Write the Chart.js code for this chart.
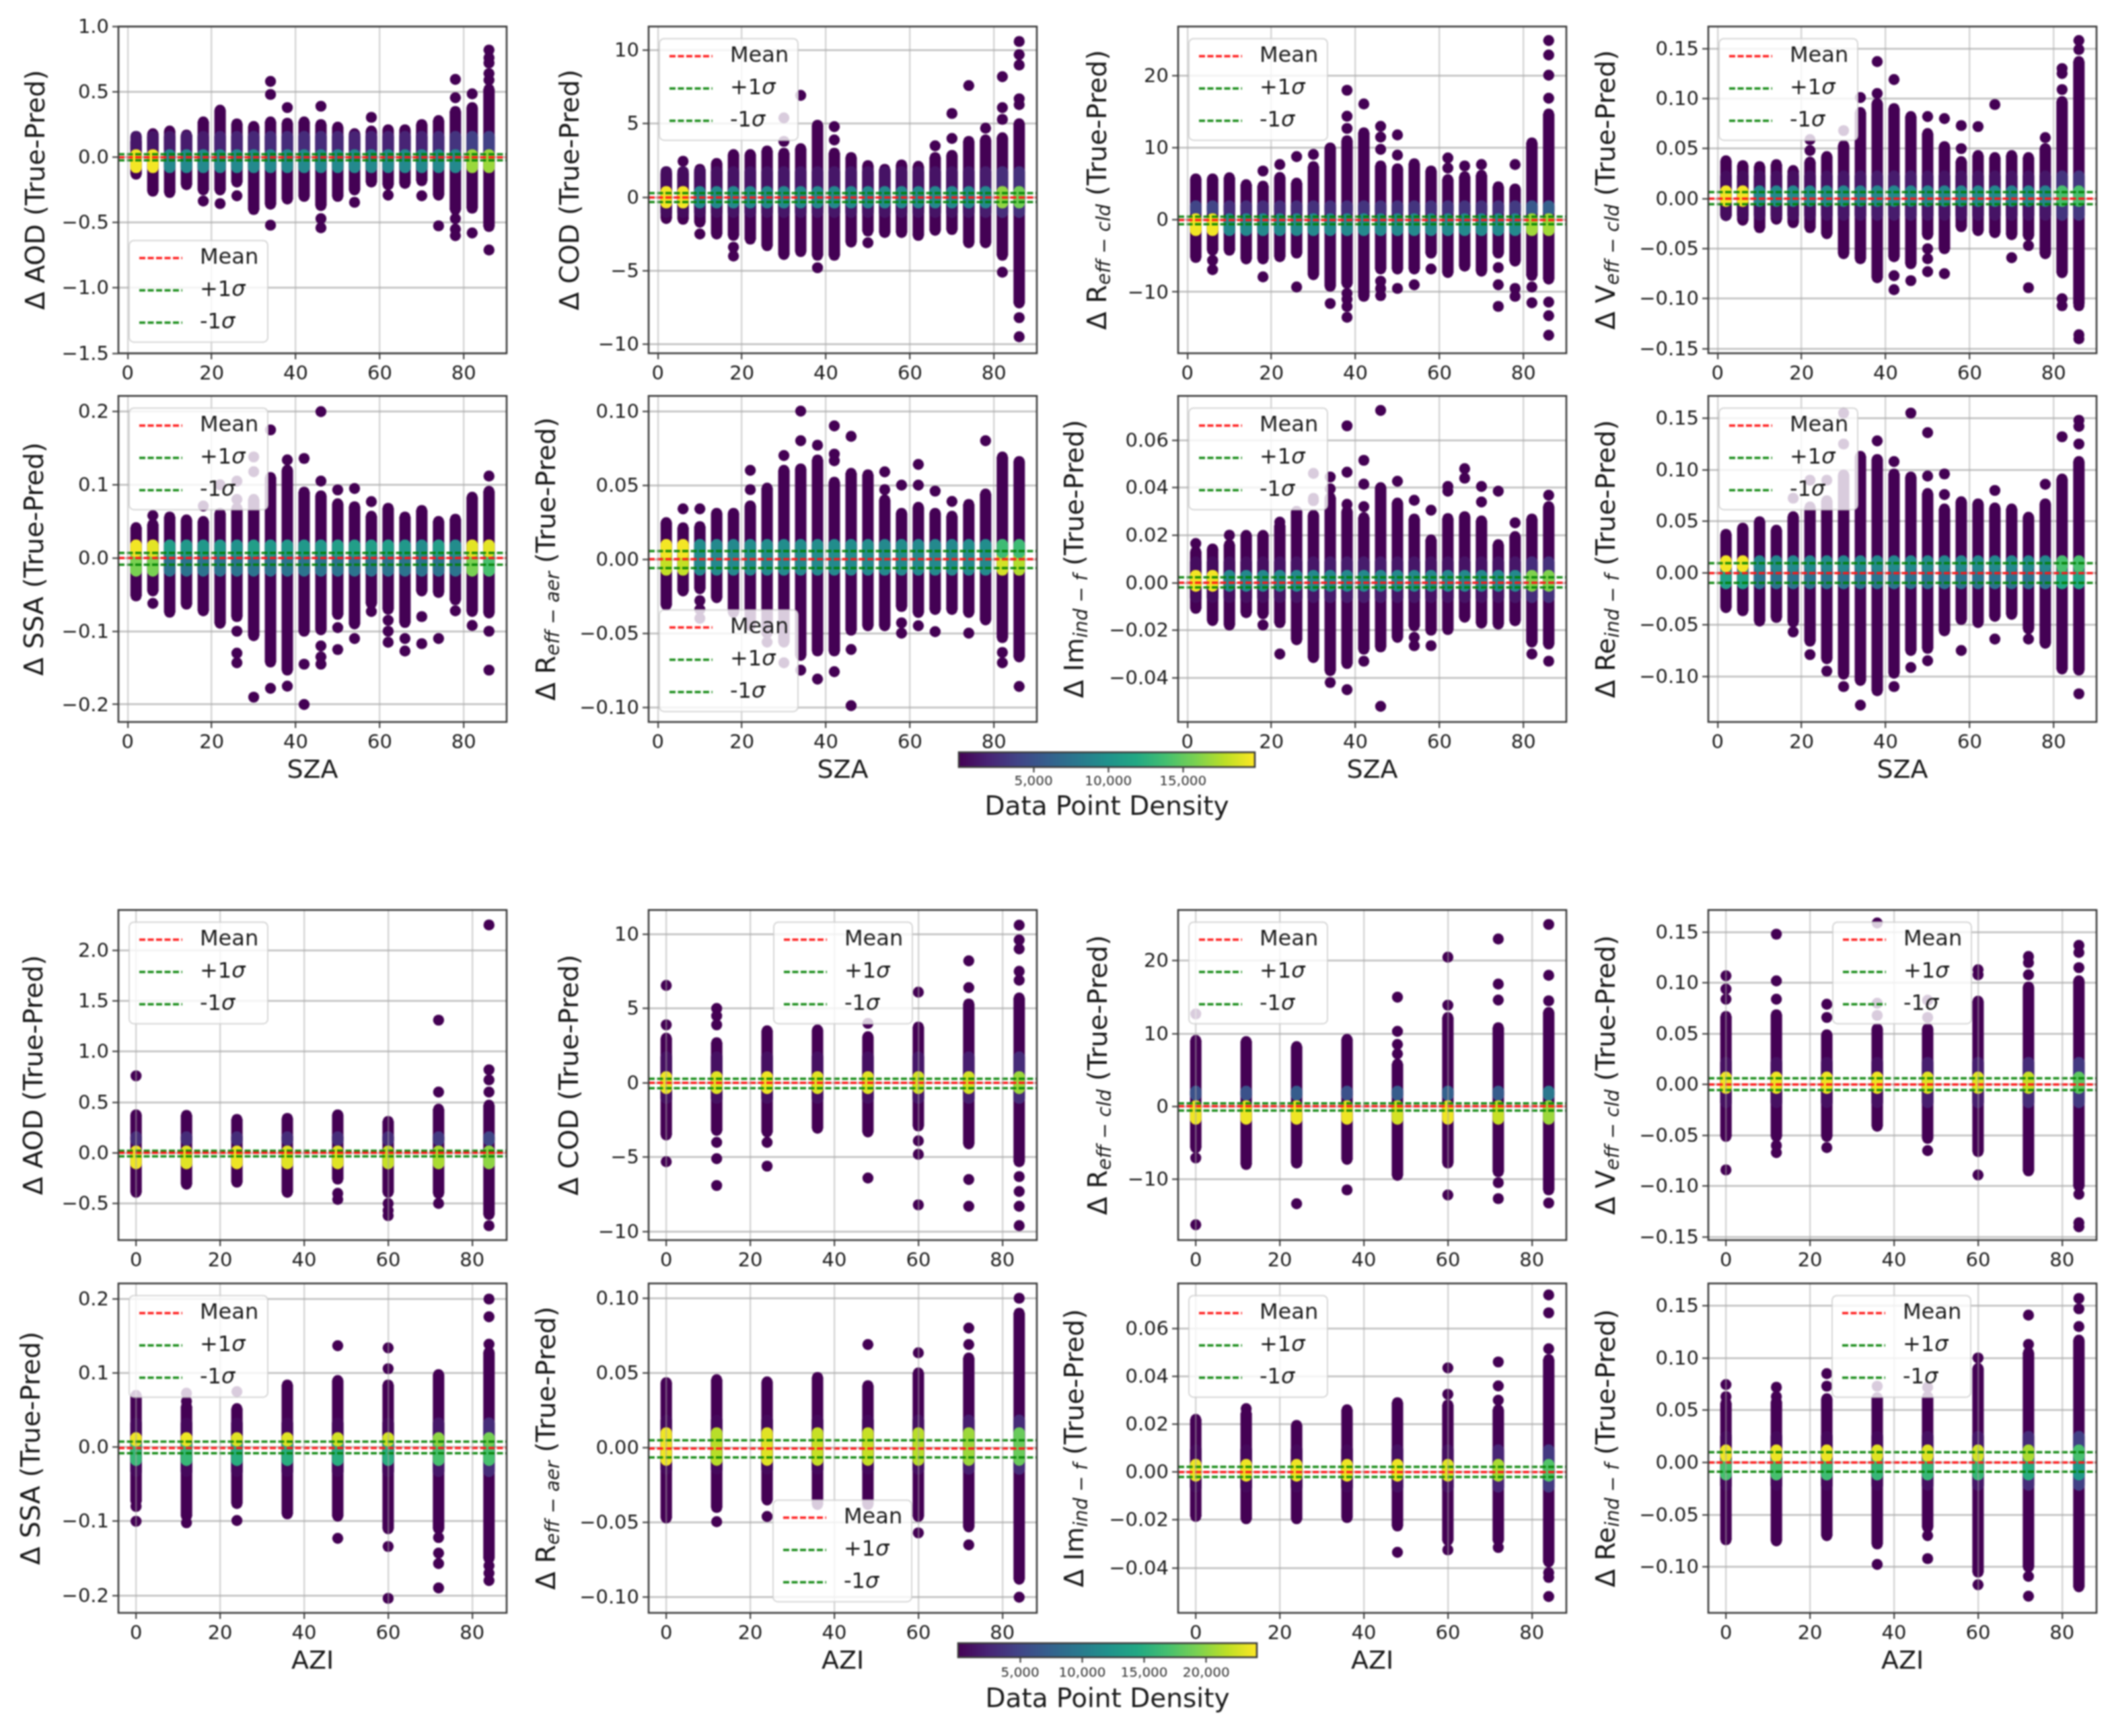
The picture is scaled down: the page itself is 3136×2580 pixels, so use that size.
<!DOCTYPE html>
<html><head><meta charset="utf-8">
<script src="https://cdn.jsdelivr.net/npm/chart.js@4"></script>
<style>
html,body{margin:0;padding:0;background:#fff}
#page{position:relative;width:3136px;height:2580px;overflow:hidden;background:#fff}
canvas{position:absolute;filter:blur(0.8px)}
</style></head><body><div id="page"></div>
<script>
// ---------- categories ----------
const szaAngles=[2,6,10,14,18,22,26,30,34,38,42,46,50,54,58,62,66,70,74,78,82,86];
const aziAngles=[0,12,24,36,48,60,72,84];
const szaLimits=[-2.2,90.2];
const aziLimits=[-4.2,88.2];
const xTickStep=20;
const legendLabels=['Mean','+1σ','-1σ'];
const densityTitle='Data Point Density';
const szaDensityRange=[0,19800];
const aziDensityRange=[0,24080];
const szaDensityTicks=[5000,10000,15000];
const aziDensityTicks=[5000,10000,15000,20000];

// ---------- SZA panels: column top, column bottom, isolated points, density bands (lo,hi,density in thousands), mean/+1s/-1s ----------
const aodSzaHi=[.12,.18,.2,.17,.27,.36,.255,.235,.27,.26,.27,.25,.23,.18,.2,.21,.21,.25,.28,.35,.38,.52];
const aodSzaLo=[-.13,-.26,-.27,-.21,-.25,-.25,-.19,-.40,-.36,-.32,-.30,-.37,-.30,-.25,-.19,-.21,-.20,-.18,-.29,-.40,-.39,-.53];
const aodSzaOut=[[18,-.335],[22,-.355],[26,-.295],[34,.58],[34,.48],[34,-.52],[38,.38],[46,.39],[46,-.47],[46,-.54],[54,-.345],[58,.305],[62,-.29],[70,-.295],[74,-.525],[78,.595],[78,.455],[78,-.47],[78,-.55],[78,-.6],[82,.485],[82,-.58],[86,.82],[86,.76],[86,.72],[86,.64],[86,.59],[86,-.71]];
const aodSzaBands=[[.02,.2,[1.2,1.2,1.5,1.5,1.5,2,2,2.2,2.5,2.5,2.5,2.5,2.2,2,2,2,2,2,2.5,3,3.8,3.8]],[-.12,.06,[19.5,19.5,9.3,9.3,9.3,9.3,9.3,9.3,9.3,9.3,9.3,9.3,9.3,9.3,9.3,9.3,9.3,9.3,9.3,9.3,16.8,16.8]]];
const aodSzaLines=[0,.022,-.024];

const codSzaHi=[1.62,1.6,1.9,2.3,2.9,2.9,3.15,3.0,3.3,4.9,3.0,2.7,2.15,1.9,2.2,2.1,2.7,2.85,3.8,3.9,4.05,5.0];
const codSzaLo=[-1.45,-1.5,-1.7,-2.5,-2.6,-2.85,-3.3,-3.9,-3.7,-3.95,-3.95,-3.05,-2.3,-2.4,-2.4,-2.6,-2.25,-2.2,-3.1,-3.1,-3.95,-7.2];
const codSzaOut=[[6,2.45],[10,-2.5],[18,-3.4],[18,-4.0],[30,5.4],[30,3.8],[34,6.93],[38,-4.8],[42,4.8],[42,3.9],[50,-3.1],[66,3.5],[70,4.0],[70,5.7],[74,7.6],[78,4.7],[82,8.2],[82,6.1],[82,5.3],[82,-5.1],[86,10.6],[86,9.7],[86,9.0],[86,6.7],[86,6.3],[86,-8.2],[86,-9.5]];
const codSzaBands=[[-1.4,2.1,[.6,.6,.8,.8,1,1,1,1.2,1.2,1.2,1.2,1.2,1,1,1,1,1,1,1.2,1.5,2.6,2.8]],[-.75,.75,[19.5,19.5,9.3,9.3,9.3,9.3,9.3,9.3,9.3,9.3,9.3,9.3,9.3,9.3,9.3,9.3,9.3,9.3,9.3,9.3,16.5,15.5]]];
const codSzaLines=[-.02,.28,-.33];

const rcldSzaHi=[5.7,5.7,5.85,4.9,4.7,5.9,5.1,7.4,10,11,12.1,7.5,7.1,7.8,6.8,5.6,6,6.2,4.6,4.3,10.7,14.7];
const rcldSzaLo=[-5.2,-4.2,-4.2,-5.4,-5.4,-5.1,-4.6,-7.6,-9.2,-8.8,-10.6,-6.8,-6.8,-6.8,-4.6,-7.3,-6.4,-7.1,-4.6,-5.7,-7.7,-8.2];
const rcldSzaOut=[[6,-5.6],[6,-6.9],[18,6.8],[18,-7.9],[22,7.7],[26,8.8],[26,-9.3],[30,9.1],[34,-11.6],[38,12.7],[38,14.4],[38,18],[38,-10.2],[38,-11],[38,-12],[38,-13.5],[42,16.1],[46,13],[46,11.5],[46,9.8],[46,-8.5],[46,-9.5],[46,-10.5],[50,9],[50,11.8],[50,-9.5],[54,-9],[58,-6.8],[62,7.2],[62,8.6],[66,7.5],[70,7.7],[74,-6.6],[74,-9],[74,-12],[78,7.7],[78,-9.5],[78,-10.6],[82,-9.3],[82,-11.5],[86,24.9],[86,22.9],[86,20.1],[86,16.9],[86,-11.4],[86,-13.3],[86,-16]];
const rcldSzaBands=[[.5,2.7,[4,4,2.6,2.6,2.6,2.6,2.6,2.8,2.8,2.8,3,3,3,3,3,3,3,2.8,3,3.4,5.5,6]],[-2.2,.9,[19.5,19.5,9.3,9.3,9.3,9.3,9.3,9.3,9.3,9.3,9.3,9.3,9.3,9.3,9.3,9.3,9.3,9.3,9.3,9.3,17,17]]];
const rcldSzaLines=[0,.45,-.6];

const vcldSzaHi=[.0378,.033,.032,.034,.028,.0365,.042,.053,.086,.095,.09,.082,.065,.052,.037,.043,.041,.043,.041,.05,.097,.137];
const vcldSzaLo=[-.017,-.0215,-.029,-.0205,-.024,-.029,-.035,-.055,-.06,-.079,-.058,-.065,-.036,-.05,-.028,-.032,-.034,-.036,-.037,-.055,-.074,-.105];
const vcldSzaOut=[[22,.048],[22,.059],[30,.068],[34,.101],[38,.137],[38,.105],[42,.119],[42,-.077],[42,-.091],[46,-.082],[50,.082],[50,-.05],[50,-.06],[50,-.073],[54,.08],[54,-.075],[58,.073],[58,.05],[62,.072],[66,.094],[70,-.059],[74,-.047],[74,-.089],[78,.061],[82,.13],[82,.125],[82,.109],[82,-.1],[82,-.107],[86,.158],[86,.149],[86,-.107],[86,-.136],[86,-.14]];
const vcldSzaBands=[[-.022,.028,[.6,.6,.8,.8,.8,.8,1,1.2,1.2,1.5,1.5,1.5,1.2,1,1,1,1,1,1,1.2,3,3.2]],[-.008,.013,[19.5,19.5,9.3,9.3,9.3,9.3,9.3,9.3,8.8,9,9.3,9.3,9,9,9.3,9.3,9.3,8.8,9.3,8.8,14,14]]];
const vcldSzaLines=[0,.0065,-.0055];

const ssaSzaHi=[.0415,.046,.056,.052,.05,.061,.068,.08,.11,.12,.09,.085,.074,.07,.057,.068,.056,.065,.05,.053,.083,.091];
const ssaSzaLo=[-.0517,-.045,-.074,-.063,-.072,-.089,-.08,-.106,-.142,-.153,-.1,-.098,-.077,-.09,-.062,-.07,-.088,-.045,-.047,-.057,-.073,-.075];
const ssaSzaOut=[[6,.058],[6,-.062],[18,.071],[22,.1],[26,.105],[26,.08],[26,-.1],[26,-.13],[26,-.143],[30,.138],[30,.118],[30,-.19],[34,.175],[34,-.178],[38,.134],[38,-.175],[42,.136],[42,-.145],[42,-.2],[46,.2],[46,.105],[46,-.12],[46,-.135],[46,-.145],[50,.093],[50,-.095],[50,-.125],[54,.095],[54,-.11],[58,.077],[58,-.073],[62,-.085],[62,-.1],[62,-.115],[66,-.11],[66,-.127],[70,-.08],[70,-.117],[74,-.11],[78,-.072],[82,-.092],[86,.112],[86,-.1],[86,-.153]];
const ssaSzaBands=[[-.025,.012,[15.8,15.8,7.5,7.5,7.5,7.5,7.5,7.5,7.5,7.5,7.5,7.5,7.5,7.5,7.5,7.5,7.5,7.5,7.5,7.5,15.8,14]],[0,.025,[19.5,19,11,10.5,10.5,10.5,10,11,10.5,10.5,10.5,10.5,11,11,11,11,10.5,9.5,11,9.5,19,19]]];
const ssaSzaLines=[0,.007,-.009];

const raerSzaHi=[.0247,.0212,.022,.031,.031,.036,.048,.06,.061,.067,.052,.058,.057,.04,.031,.035,.031,.029,.037,.044,.069,.066];
const raerSzaLo=[-.031,-.0215,-.02,-.026,-.036,-.045,-.05,-.056,-.065,-.062,-.062,-.048,-.045,-.045,-.032,-.036,-.034,-.034,-.036,-.041,-.053,-.066];
const raerSzaOut=[[6,.034],[10,.034],[10,-.028],[10,-.034],[10,-.04],[22,.047],[22,.06],[26,-.056],[30,.07],[30,-.07],[34,.08],[34,.1],[34,-.075],[38,.077],[38,-.081],[42,.0665],[42,.071],[42,.09],[42,-.076],[46,.083],[46,-.061],[46,-.099],[54,.047],[54,.059],[58,.05],[58,-.043],[58,-.05],[62,.05],[62,.064],[62,-.045],[66,.046],[66,-.049],[70,.039],[74,-.05],[78,.08],[82,-.063],[82,-.07],[86,-.086]];
const raerSzaBands=[[-.011,.006,[18,18,9.3,9.3,9.3,9.3,9.3,9.3,9.3,9.3,9.3,9.3,9.3,9.3,9.3,9.3,9.3,9.3,9.3,9.3,18.5,17.5]],[0,.0135,[19.5,19.5,9.6,9.3,9.3,9.6,9.6,9.6,9.6,9.6,9.6,9.6,9.6,9.3,9.6,9.3,9.3,9.3,9.6,9.6,13.5,13.5]]];
const raerSzaLines=[0,.0055,-.006];

const imSzaHi=[.013,.0142,.016,.0199,.0199,.024,.03,.0284,.0358,.03,.0274,.04,.0335,.0268,.018,.027,.0278,.026,.016,.0194,.0268,.032];
const imSzaLo=[-.0108,-.0159,-.0178,-.0126,-.0131,-.0168,-.024,-.0315,-.037,-.034,-.028,-.027,-.023,-.0182,-.02,-.0197,-.0145,-.017,-.0174,-.016,-.025,-.0258];
const imSzaOut=[[2,.0165],[10,.02],[18,-.0178],[22,.0255],[22,-.03],[30,.0355],[30,.046],[30,.0345],[34,.0445],[34,.0395],[34,-.042],[38,.033],[38,.0465],[38,.066],[38,-.045],[42,.032],[42,.0415],[42,.0515],[42,-.033],[46,.0725],[46,-.052],[50,.0427],[54,.0347],[54,-.023],[54,-.0265],[58,.0305],[58,-.0265],[62,.0385],[62,.0405],[66,.048],[66,.044],[70,.034],[70,.0405],[74,.0385],[78,.0252],[82,-.03],[86,.0368],[86,-.033]];
const imSzaBands=[[-.0085,.011,[.6,.6,.8,.8,.8,1,1,1.2,1.5,1.5,1.5,1.5,1.2,1.2,1,1,1,1,1,1.2,2.6,2.8]],[-.0037,.0053,[19.5,19.5,9.3,9.3,9.3,9.3,9.3,9.3,9.3,9.3,9.3,9.3,9.3,9.3,9.3,9.3,9.3,9.3,9.3,9.3,16,16]]];
const imSzaLines=[0,.0023,-.002];

const reSzaHi=[.0375,.0435,.0497,.0415,.0545,.064,.07,.095,.113,.11,.096,.093,.077,.062,.069,.067,.063,.062,.054,.067,.091,.108];
const reSzaLo=[-.0335,-.0365,-.0465,-.043,-.0475,-.066,-.083,-.098,-.104,-.114,-.097,-.075,-.073,-.056,-.045,-.048,-.042,-.04,-.054,-.068,-.093,-.094];
const reSzaOut=[[18,.0725],[18,-.057],[22,.09],[22,-.079],[26,.09],[26,-.095],[30,.125],[30,.155],[30,-.11],[34,-.128],[38,.128],[42,.108],[42,-.11],[46,.155],[46,-.0915],[50,.094],[50,.136],[50,-.085],[54,.096],[54,.076],[58,-.075],[66,.08],[66,-.064],[74,-.064],[78,.086],[82,.132],[86,.125],[86,.142],[86,.148],[86,-.117]];
const reSzaBands=[[-.0155,.006,[11.2,11.2,7.5,7.5,7.5,7.5,7.5,7.5,7.5,7.5,7.5,7.5,7.5,7.5,7.5,7.5,7.5,7.5,7.5,7.5,11.8,11.8]],[0,.017,[19.5,19.5,9.3,9.3,9.3,9.3,9.3,9.3,9.3,9.3,9.3,9.3,9.3,9.3,9.3,9.3,9.3,9.3,9.3,9.3,14,14]]];
const reSzaLines=[0,.0095,-.0095];

// ---------- AZI panels ----------
const aodAziHi=[.375,.37,.33,.34,.375,.31,.43,.47];
const aodAziLo=[-.39,-.31,-.29,-.39,-.26,-.39,-.4,-.61];
const aodAziOut=[[0,.76],[48,-.4],[48,-.46],[60,-.5],[60,-.57],[60,-.62],[72,1.31],[72,.6],[72,-.5],[84,2.25],[84,.82],[84,.72],[84,.6],[84,-.72]];
const aodAziBands=[[.07,.21,[3,3,3,3,3,3,4,5]],[-.16,.07,[23.5,23,23.5,23,23,22,21,20]]];
const aodAziLines=[0,.02,-.035];

const codAziHi=[3.0,2.7,3.5,3.55,3.1,3.75,5.3,5.7];
const codAziLo=[-3.5,-3.2,-3.3,-3.05,-3.3,-2.9,-4.1,-5.3];
const codAziOut=[[0,6.55],[0,3.9],[0,-5.3],[12,5],[12,4.5],[12,3.9],[12,-4],[12,-5.1],[12,-6.9],[24,-4],[24,-5.6],[48,4],[48,-6.4],[60,6.1],[60,-3.9],[60,-4.8],[60,-8.2],[72,8.2],[72,6.4],[72,-6.5],[72,-8.3],[84,10.6],[84,9.6],[84,9],[84,7.5],[84,6.9],[84,-6.3],[84,-7.3],[84,-8.3],[84,-9.6]];
const codAziBands=[[-1.4,2.1,[1,1,1,1,1,1.5,2,3]],[-.74,.77,[23.5,23,23.5,23,23,22.5,22.5,20.5]]];
const codAziLines=[0,.27,-.36];

const rcldAziHi=[9.05,8.9,8.2,9.2,5.8,12.2,10.8,12.9];
const rcldAziLo=[-5.7,-8,-7.8,-7.3,-9.5,-7.8,-9,-11.5];
const rcldAziOut=[[0,12.7],[0,-7.1],[0,-16.3],[24,-13.4],[36,-11.5],[48,15],[48,10.3],[48,8.5],[48,7.2],[60,20.5],[60,13.9],[60,-12.2],[72,23],[72,16.8],[72,14.6],[72,-10.5],[72,-12.7],[84,25],[84,18],[84,14.5],[84,-13.3]];
const rcldAziBands=[[.8,2.8,[6,6,7,6,7,7.5,7,9.6]],[-2.5,.8,[23.5,23.5,23.5,23.5,22.5,23.5,22,20.5]]];
const rcldAziLines=[0,.4,-.6];

const vcldAziHi=[.067,.0687,.049,.055,.055,.082,.096,.102];
const vcldAziLo=[-.051,-.051,-.051,-.041,-.053,-.066,-.085,-.1];
const vcldAziOut=[[0,.107],[0,.094],[0,.084],[0,-.084],[12,.148],[12,.102],[12,.084],[12,-.06],[12,-.067],[24,.079],[24,.066],[24,-.062],[36,.159],[36,.068],[36,.08],[48,.083],[48,.066],[48,-.065],[60,.113],[60,.108],[60,-.089],[72,.126],[72,.12],[72,.108],[84,.137],[84,.13],[84,.115],[84,-.108],[84,-.136],[84,-.14]];
const vcldAziBands=[[-.023,.027,[1,1,1,1,2,2,3,4]],[-.009,.0125,[23.5,23.5,23.5,23.5,23,23,22,18]]];
const vcldAziLines=[0,.0062,-.0055];

const ssaAziHi=[.07,.055,.052,.084,.09,.084,.098,.128];
const ssaAziLo=[-.073,-.093,-.076,-.09,-.093,-.11,-.11,-.15];
const ssaAziOut=[[0,-.08],[0,-.1],[12,.062],[12,.073],[12,-.102],[24,.075],[24,-.099],[48,.137],[48,-.123],[60,.134],[60,.106],[60,-.134],[60,-.204],[72,-.122],[72,-.143],[72,-.157],[72,-.19],[84,.2],[84,.176],[84,.139],[84,-.16],[84,-.17],[84,-.18]];
const ssaAziBands=[[-.04,.04,[.5,.5,.5,.5,.5,.5,1.5,3]],[-.025,.01,[16,16,15,15,15,15,17,17]],[0,.02,[23.5,23.5,23,23,22.5,22.5,20,19]]];
const ssaAziLines=[-.001,.0075,-.008];

const raerAziHi=[.0435,.0455,.044,.047,.0415,.05,.06,.09];
const raerAziLo=[-.047,-.04,-.035,-.038,-.038,-.046,-.053,-.088];
const raerAziOut=[[12,-.0495],[24,-.046],[48,.069],[60,.0635],[60,-.057],[72,.08],[72,.069],[72,-.065],[84,.1],[84,-.1]];
const raerAziBands=[[-.018,.022,[.5,.5,.5,.5,.5,1,2,3]],[-.012,.0135,[23.5,21.5,23,22,22,21.5,20.5,18.5]]];
const raerAziLines=[-.0005,.005,-.0065];

const imAziHi=[.022,.0245,.0195,.026,.029,.028,.026,.047];
const imAziLo=[-.0185,-.0195,-.0195,-.019,-.0225,-.0285,-.0285,-.0375];
const imAziOut=[[12,.0265],[48,-.0335],[60,.0435],[60,.0325],[60,-.0325],[72,.046],[72,.036],[72,.03],[72,-.0315],[84,.074],[84,.0665],[84,.0515],[84,-.042],[84,-.044],[84,-.052]];
const imAziBands=[[-.0085,.0115,[.5,.5,.5,.5,1,1,2.5,4]],[-.0039,.0054,[23.5,23.5,23.5,23.5,23.5,23,21,17.5]]];
const imAziLines=[0,.0022,-.002];

const reAziHi=[.0567,.0578,.061,.062,.063,.09,.105,.117];
const reAziLo=[-.074,-.075,-.07,-.078,-.062,-.105,-.1,-.119];
const reAziOut=[[0,.0745],[0,.063],[12,.072],[12,.063],[24,.085],[24,.073],[36,.073],[36,-.0975],[48,.072],[48,-.07],[48,-.092],[60,.1],[60,-.117],[72,.113],[72,.141],[72,-.109],[72,-.128],[84,.157],[84,.147],[84,.13]];
const reAziBands=[[-.027,.03,[.5,.5,.5,.5,1,1.5,3,4.5]],[-.017,.006,[17,17,16.5,16,16,16,15,13]],[0,.017,[23.5,23.5,23.5,23,23,22.5,21,17]]];
const reAziLines=[0,.0098,-.0088];

// ---------- viridis ----------
const viridisStops=['#440154','#482475','#414487','#355f8d','#2a788e','#21918c','#22a884','#44bf70','#7ad151','#bddf26','#fde725'];
function viridis(t){
  t=Math.max(0,Math.min(1,t))*10;
  const i=Math.min(9,Math.floor(t)),f=t-i;
  const h=s=>[1,3,5].map(k=>parseInt(s.substr(k,2),16));
  const a=h(viridisStops[i]),b=h(viridisStops[i+1]);
  return 'rgb('+a.map((v,k)=>Math.round(v+(b[k]-v)*f)).join(',')+')';
}

// ---------- axis & panel descriptions ----------
const FONT='"DejaVu Sans"';
Chart.defaults.font.family=FONT;
Chart.defaults.color='#222';
const colLeft=[176,964,1751,2539], plotW=577;
const rowTop=[39,588,1352,1907], rowBottom=[525,1073,1843,2397];
const mk=(main,sub,xName,xs,lim,rng,hi,lo,out,bands,lines,yMin,yMax,step,dec,col,row,titleOff,lgd)=>
  ({main,sub,xName,xs,lim,rng,hi,lo,out,bands,lines,yMin,yMax,step,dec,col,row,titleOff,lgd});
const panels=[
 mk('AOD','','SZA',szaAngles,szaLimits,szaDensityRange,aodSzaHi,aodSzaLo,aodSzaOut,aodSzaBands,aodSzaLines,-1.5,1.0,.5,1,0,0,120,[16,318]),
 mk('COD','','SZA',szaAngles,szaLimits,szaDensityRange,codSzaHi,codSzaLo,codSzaOut,codSzaBands,codSzaLines,-10.62,11.62,5,0,1,0,114,[16,18]),
 mk('R','eff − cld','SZA',szaAngles,szaLimits,szaDensityRange,rcldSzaHi,rcldSzaLo,rcldSzaOut,rcldSzaBands,rcldSzaLines,-18.5,26.85,10,0,2,0,117,[16,18]),
 mk('V','eff − cld','SZA',szaAngles,szaLimits,szaDensityRange,vcldSzaHi,vcldSzaLo,vcldSzaOut,vcldSzaBands,vcldSzaLines,-.1545,.172,.05,2,3,0,149,[16,18]),
 mk('SSA','','SZA',szaAngles,szaLimits,szaDensityRange,ssaSzaHi,ssaSzaLo,ssaSzaOut,ssaSzaBands,ssaSzaLines,-.2239,.2214,.1,1,0,1,122,[16,18]),
 mk('R','eff − aer','SZA',szaAngles,szaLimits,szaDensityRange,raerSzaHi,raerSzaLo,raerSzaOut,raerSzaBands,raerSzaLines,-.11,.1103,.05,2,1,1,149,[16,318]),
 mk('Im','ind − f','SZA',szaAngles,szaLimits,szaDensityRange,imSzaHi,imSzaLo,imSzaOut,imSzaBands,imSzaLines,-.0586,.0786,.02,2,2,1,151,[16,18]),
 mk('Re','ind − f','SZA',szaAngles,szaLimits,szaDensityRange,reSzaHi,reSzaLo,reSzaOut,reSzaBands,reSzaLines,-.1443,.1716,.05,2,3,1,149,[16,18]),
 mk('AOD','','AZI',aziAngles,aziLimits,aziDensityRange,aodAziHi,aodAziLo,aodAziOut,aodAziBands,aodAziLines,-.862,2.398,.5,1,0,2,123,[16,18]),
 mk('COD','','AZI',aziAngles,aziLimits,aziDensityRange,codAziHi,codAziLo,codAziOut,codAziBands,codAziLines,-10.57,11.62,5,0,1,2,115,[186,18]),
 mk('R','eff − cld','AZI',aziAngles,aziLimits,aziDensityRange,rcldAziHi,rcldAziLo,rcldAziOut,rcldAziBands,rcldAziLines,-18.4,26.99,10,0,2,2,116,[16,18]),
 mk('V','eff − cld','AZI',aziAngles,aziLimits,aziDensityRange,vcldAziHi,vcldAziLo,vcldAziOut,vcldAziBands,vcldAziLines,-.1531,.1718,.05,2,3,2,149,[185,18]),
 mk('SSA','','AZI',aziAngles,aziLimits,aziDensityRange,ssaAziHi,ssaAziLo,ssaAziOut,ssaAziBands,ssaAziLines,-.2236,.2211,.1,1,0,3,127,[16,18]),
 mk('R','eff − aer','AZI',aziAngles,aziLimits,aziDensityRange,raerAziHi,raerAziLo,raerAziOut,raerAziBands,raerAziLines,-.1105,.1099,.05,2,1,3,149,[185,322]),
 mk('Im','ind − f','AZI',aziAngles,aziLimits,aziDensityRange,imAziHi,imAziLo,imAziOut,imAziBands,imAziLines,-.0588,.0788,.02,2,2,3,151,[16,18]),
 mk('Re','ind − f','AZI',aziAngles,aziLimits,aziDensityRange,reAziHi,reAziLo,reAziOut,reAziBands,reAziLines,-.1439,.1713,.05,2,3,3,149,[184,18]),
];

const DARK='#440154', BAR_W=16.4, R=8.2;
const page=document.getElementById('page');
const fmt=(v,d)=>{const s=Math.abs(v).toFixed(d);return (v<-1e-9?'−':'')+s;};

const framePlugin={id:'frame',afterDraw(ch,_a,o){
  const {left,top,width,height}=ch.chartArea,c=ch.ctx;
  c.save();c.strokeStyle='#3c3c3c';c.lineWidth=2.6;c.strokeRect(left,top,width,height);c.restore();
}};
const titlePlugin={id:'ytitle',afterDraw(ch,_a,o){
  if(!o||!o.main)return;
  const c=ch.ctx,a=ch.chartArea;
  c.save();
  c.translate(a.left-o.off,(a.top+a.bottom)/2);c.rotate(-Math.PI/2);
  c.fillStyle='#1a1a1a';c.textBaseline='middle';c.textAlign='left';
  const big='39.5px '+FONT, small='italic 28px '+FONT;
  const segs=[['Δ '+o.main,big,0]];
  if(o.sub)segs.push([o.sub,small,9]);
  segs.push([' (True-Pred)',big,0]);
  let w=0;segs.forEach(s=>{c.font=s[1];w+=c.measureText(s[0]).width;});
  let x=-w/2;
  segs.forEach(s=>{c.font=s[1];c.fillText(s[0],x,s[2]);x+=c.measureText(s[0]).width;});
  c.restore();
}};
const legendPlugin={id:'lgd',afterDraw(ch,_a,o){
  if(!o||!o.pos)return;
  const c=ch.ctx,a=ch.chartArea,x=a.left+o.pos[0],y=a.top+o.pos[1],W=206,H=151;
  c.save();
  c.beginPath();c.roundRect(x,y,W,H,7);
  c.fillStyle='rgba(255,255,255,0.8)';c.fill();
  c.strokeStyle='rgba(204,204,204,0.8)';c.lineWidth=2;c.stroke();
  const ds=ch.data.datasets.slice(0,3);
  ds.forEach((d,i)=>{
    const cy=y+26+i*48;
    c.beginPath();c.setLineDash(d.borderDash);c.strokeStyle=d.borderColor;c.lineWidth=d.borderWidth;
    c.moveTo(x+15,cy);c.lineTo(x+79,cy);c.stroke();c.setLineDash([]);
    c.fillStyle='#1a1a1a';c.textBaseline='middle';c.textAlign='left';
    let t=d.label,tx=x+105;
    if(t.endsWith('σ')){
      const head=t.slice(0,-1);
      c.font='32px '+FONT;c.fillText(head,tx,cy);tx+=c.measureText(head).width;
      c.font='italic 32px '+FONT;c.fillText('σ',tx,cy);
    } else {c.font='32px '+FONT;c.fillText(t,tx,cy);}
  });
  c.restore();
}};

panels.forEach(p=>{
  const L=colLeft[p.col],T=rowTop[p.row],B=rowBottom[p.row];
  const withX=p.row%2===1;
  const padL=175,padT=22,padR=12,botH=withX?100:56;
  const cv=document.createElement('canvas');
  cv.width=padL+plotW+padR;cv.height=padT+(B-T)+botH;
  cv.style.left=(L-padL)+'px';cv.style.top=(T-padT)+'px';
  cv.style.width=cv.width+'px';cv.style.height=cv.height+'px';
  page.appendChild(cv);
  const line=(v,color,label,dash)=>({type:'line',label,data:p.lim.map(x=>({x,y:v})),borderColor:color,borderWidth:3.5,borderDash:dash,pointRadius:0,order:0});
  const datasets=[
    line(p.lines[0],'rgba(255,20,20,0.95)',legendLabels[0],[9,3.5]),
    line(p.lines[1],'rgba(0,128,0,0.9)',legendLabels[1],[9,3.5]),
    line(p.lines[2],'rgba(0,128,0,0.9)',legendLabels[2],[9,3.5]),
  ];
  p.bands.forEach((b,i)=>{
    datasets.push({type:'bar',grouped:false,barThickness:BAR_W,borderRadius:8.2,borderSkipped:false,
      order:9-i,
      data:p.xs.map(x=>({x,y:[b[0],b[1]]})),
      backgroundColor:b[2].map(d=>viridis(d*1000/p.rng[1])),
      label:'density'});
  });
  datasets.push({type:'scatter',order:11,pointRadius:R,pointBorderWidth:0,pointBackgroundColor:DARK,label:'points',
    data:[...p.xs.map((x,i)=>({x,y:p.hi[i]})),...p.xs.map((x,i)=>({x,y:p.lo[i]})),...p.out.map(o=>({x:o[0],y:o[1]}))]});
  datasets.push({type:'bar',grouped:false,barThickness:BAR_W,borderRadius:0,order:12,backgroundColor:DARK,label:'range',
    data:p.xs.map((x,i)=>({x,y:[p.lo[i],p.hi[i]]}))});
  new Chart(cv.getContext('2d'),{
    type:'scatter',
    data:{datasets},
    options:{
      responsive:false,animation:false,devicePixelRatio:1,
      layout:{padding:{top:padT,right:padR,left:0,bottom:0}},
      plugins:{legend:{display:false},tooltip:{enabled:false},
        ytitle:{main:p.main,sub:p.sub,off:p.titleOff},lgd:{pos:p.lgd}},
      scales:{
        x:{type:'linear',offset:false,min:p.lim[0],max:p.lim[1],
           afterFit(s){s.height=botH;},
           grid:{offset:false,z:1,color:'rgba(170,170,170,0.5)',lineWidth:2.4,tickLength:9,tickColor:'#333',tickWidth:2,drawTicks:true},
           border:{display:false},
           ticks:{stepSize:xTickStep,includeBounds:false,maxRotation:0,autoSkip:false,padding:5,font:{size:29},color:'#1a1a1a'},
           title:{display:withX,text:p.xName,font:{size:38},color:'#1a1a1a'}},
        y:{type:'linear',min:p.yMin,max:p.yMax,
           afterFit(s){s.width=padL;},
           grid:{color:'rgb(200,200,200)',lineWidth:3,tickLength:9,tickColor:'#333',tickWidth:2},
           border:{display:false},
           ticks:{stepSize:p.step,includeBounds:false,autoSkip:false,padding:5,labelOffset:2,font:{size:29},color:'#1a1a1a',
                  callback:v=>fmt(v,p.dec)}}
      }
    },
    plugins:[titlePlugin,legendPlugin,framePlugin]
  });
});

// ---------- colour bars ----------
function colorbar(rng,ticks,barL,barR,barT,barB,titleY,tickPad){
  const padL=100,padR=100,padT=8,botH=titleY+27-barB;
  const cv=document.createElement('canvas');
  cv.width=padL+(barR-barL)+padR;cv.height=padT+(barB-barT)+botH;
  cv.style.left=(barL-padL)+'px';cv.style.top=(barT-padT)+'px';
  cv.style.width=cv.width+'px';cv.style.height=cv.height+'px';
  page.appendChild(cv);
  const fill=ctx=>{
    const a=ctx.chart.chartArea;
    if(!a)return viridis(.5);
    const g=ctx.chart.ctx.createLinearGradient(a.left,0,a.right,0);
    viridisStops.forEach((s,i)=>g.addColorStop(i/10,s));
    return g;
  };
  new Chart(cv.getContext('2d'),{
    type:'bar',
    data:{labels:[densityTitle],datasets:[{data:[[rng[0],rng[1]]],backgroundColor:fill,barPercentage:1,categoryPercentage:1,borderSkipped:false}]},
    options:{indexAxis:'y',responsive:false,animation:false,devicePixelRatio:1,
      layout:{padding:{top:padT,left:padL,right:padR,bottom:0}},
      plugins:{legend:{display:false},tooltip:{enabled:false}},
      scales:{
        y:{display:false},
        x:{type:'linear',min:rng[0],max:rng[1],afterFit(s){s.height=botH;},
           afterBuildTicks(s){s.ticks=ticks.map(value=>({value}));},
           grid:{drawOnChartArea:false,tickLength:8,tickColor:'#333',tickWidth:2},border:{display:false},
           ticks:{autoSkip:false,maxRotation:0,padding:tickPad,font:{size:20},color:'#333',callback:v=>v.toLocaleString('en-US')},
           title:{display:true,text:densityTitle,font:{size:39},color:'#1a1a1a'}}
      }},
    plugins:[framePlugin]
  });
}
colorbar(szaDensityRange,szaDensityTicks,1425,1865,1118,1140,1201,2);
colorbar(aziDensityRange,aziDensityTicks,1424,1868,2442,2463,2527,4);
</script></body></html>
